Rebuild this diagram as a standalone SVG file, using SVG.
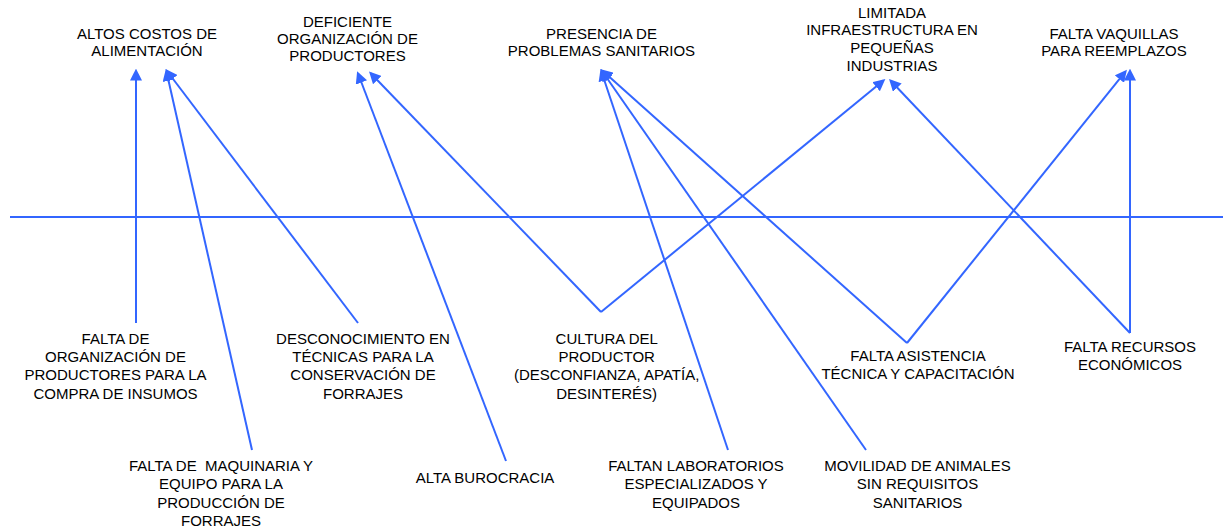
<svg xmlns="http://www.w3.org/2000/svg" width="1223" height="530" viewBox="0 0 1223 530">
<style>
.t{font-family:"Liberation Sans",Arial,sans-serif;font-size:15px;fill:#000;text-anchor:middle;white-space:pre}
.c{stroke:#3366FF;stroke-width:2;fill:none}
.a{marker-end:url(#ah)}
</style>
<defs>
<marker id="ah" markerUnits="userSpaceOnUse" markerWidth="12" markerHeight="12" refX="8" refY="5" orient="auto" viewBox="0 0 10 10">
<path d="M0,0 L10,5 L0,10 z" fill="#3366FF"/>
</marker>
</defs>
<rect width="1223" height="530" fill="#fff"/>
<g id="connectors">
<line class="c" x1="10" y1="217" x2="1223" y2="217"/>
<line class="c a" x1="136" y1="323" x2="136" y2="71"/>
<line class="c a" x1="252" y1="450" x2="166.4" y2="71.3"/>
<line class="c a" x1="358" y1="323" x2="167" y2="71"/>
<line class="c a" x1="506" y1="461" x2="358" y2="73.5"/>
<line class="c a" x1="601" y1="312" x2="370.7" y2="73.2"/>
<line class="c a" x1="601" y1="312" x2="883.5" y2="80.6"/>
<line class="c a" x1="728" y1="450" x2="601.3" y2="71.2"/>
<line class="c a" x1="866" y1="450" x2="602" y2="71"/>
<line class="c a" x1="907" y1="343" x2="602.5" y2="70.8"/>
<line class="c a" x1="907" y1="343" x2="1125.4" y2="71.6"/>
<line class="c a" x1="1130" y1="333" x2="890.7" y2="80.7"/>
<line class="c a" x1="1130" y1="333" x2="1130" y2="71"/>
</g>
<g id="altos-costos"><text class="t"><tspan x="147" y="39">ALTOS COSTOS DE</tspan><tspan x="147" y="56">ALIMENTACIÓN</tspan></text></g>
<g id="deficiente-organizacion"><text class="t"><tspan x="347.5" y="27">DEFICIENTE</tspan><tspan x="347.5" y="44">ORGANIZACIÓN DE</tspan><tspan x="347.5" y="61">PRODUCTORES</tspan></text></g>
<g id="presencia-problemas"><text class="t"><tspan x="601.5" y="38.5">PRESENCIA DE</tspan><tspan x="601.5" y="56">PROBLEMAS SANITARIOS</tspan></text></g>
<g id="limitada-infraestructura"><text class="t"><tspan x="892" y="17.5">LIMITADA</tspan><tspan x="892" y="35">INFRAESTRUCTURA EN</tspan><tspan x="892" y="52.7">PEQUEÑAS</tspan><tspan x="892" y="70.5">INDUSTRIAS</tspan></text></g>
<g id="falta-vaquillas"><text class="t"><tspan x="1114" y="39">FALTA VAQUILLAS</tspan><tspan x="1114" y="56">PARA REEMPLAZOS</tspan></text></g>
<g id="falta-organizacion"><text class="t"><tspan x="115.5" y="344.3">FALTA DE</tspan><tspan x="115.5" y="362.3">ORGANIZACIÓN DE</tspan><tspan x="115.5" y="380.3">PRODUCTORES PARA LA</tspan><tspan x="115.5" y="398.5">COMPRA DE INSUMOS</tspan></text></g>
<g id="desconocimiento"><text class="t"><tspan x="363" y="344.3">DESCONOCIMIENTO EN</tspan><tspan x="363" y="362.3">TÉCNICAS PARA LA</tspan><tspan x="363" y="380.3">CONSERVACIÓN DE</tspan><tspan x="363" y="398.5">FORRAJES</tspan></text></g>
<g id="falta-maquinaria"><text class="t"><tspan x="221" y="471">FALTA DE  MAQUINARIA Y</tspan><tspan x="221" y="489.3">EQUIPO PARA LA</tspan><tspan x="221" y="507.5">PRODUCCIÓN DE</tspan><tspan x="221" y="525.8">FORRAJES</tspan></text></g>
<g id="alta-burocracia"><text class="t"><tspan x="485" y="482.7">ALTA BUROCRACIA</tspan></text></g>
<g id="cultura-productor"><text class="t"><tspan x="606.7" y="344.3">CULTURA DEL</tspan><tspan x="606.7" y="362.3">PRODUCTOR</tspan><tspan x="606.7" y="380.3">(DESCONFIANZA, APATÍA,</tspan><tspan x="606.7" y="398.5">DESINTERÉS)</tspan></text></g>
<g id="faltan-laboratorios"><text class="t"><tspan x="696" y="471">FALTAN LABORATORIOS</tspan><tspan x="696" y="489.3">ESPECIALIZADOS Y</tspan><tspan x="696" y="507.5">EQUIPADOS</tspan></text></g>
<g id="falta-asistencia"><text class="t"><tspan x="918" y="361">FALTA ASISTENCIA</tspan><tspan x="918" y="379.3">TÉCNICA Y CAPACITACIÓN</tspan></text></g>
<g id="falta-recursos"><text class="t"><tspan x="1130" y="352.3">FALTA RECURSOS</tspan><tspan x="1130" y="370">ECONÓMICOS</tspan></text></g>
<g id="movilidad-animales"><text class="t"><tspan x="917.5" y="471">MOVILIDAD DE ANIMALES</tspan><tspan x="917.5" y="489.3">SIN REQUISITOS</tspan><tspan x="917.5" y="507.5">SANITARIOS</tspan></text></g>
</svg>
